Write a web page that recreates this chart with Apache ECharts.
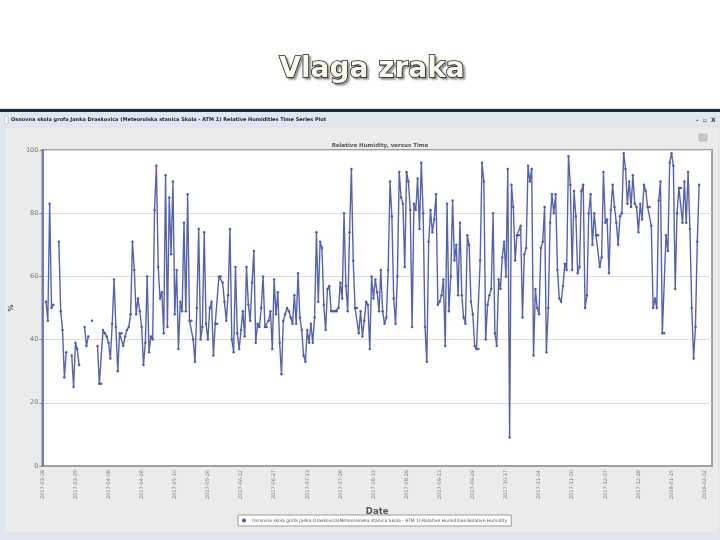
<!DOCTYPE html>
<html><head><meta charset="utf-8">
<script src="https://cdn.jsdelivr.net/npm/echarts@6/dist/echarts.min.js"></script>
<style>html,body{margin:0;padding:0;background:#fff}#c{width:720px;height:540px}</style>
</head><body><div id="c"></div>
<script>
const pageTitle = 'Vlaga zraka';
const windowTitle = 'Osnovna skola grofa Janka Draskovica (Meteorolska stanica Skola - ATM 1) Relative Humidities Time Series Plot';
const chartTitle = 'Relative Humidity, versus Time';
const seriesName = 'Osnovna skola grofa Janka Draskovica(Meteoroloska stanica Skola - ATM 1):Relative Humidities:Relative Humidity';
const yAxisName = '%';
const xAxisName = 'Date';
const tickLabels = ['2017-03-09','2017-03-25','2017-04-09','2017-04-26','2017-05-10','2017-05-26','2017-06-12','2017-06-27','2017-07-13','2017-07-28','2017-08-13','2017-08-29','2017-09-13','2017-09-29','2017-10-17','2017-11-04','2017-11-20','2017-12-07','2017-12-28','2018-01-15','2018-02-02'];
const pointsPerTick = 18;
const categoryCount = 365;
const humidity = [
null,null,52,46,83,50,51,null,null,71,
49,43,28,36,null,null,35,25,39,37,
32,null,null,44,38,41,null,46,null,null,
38,26,26,43,42,41,39,34,45,59,
44,30,42,42,38,41,43,44,48,71,
62,48,53,49,44,32,39,60,36,41,
40,81,95,63,53,55,42,92,44,85,
67,90,48,62,37,52,49,77,49,86,
46,46,40,33,50,75,40,44,74,45,
40,50,52,35,45,45,60,60,58,52,
46,54,75,40,36,63,42,37,43,49,
41,63,51,46,58,68,39,45,44,50,
60,44,44,46,49,37,59,48,55,39,
29,46,48,50,49,47,45,54,45,61,
47,43,35,33,43,39,45,39,47,74,
52,71,69,51,43,56,57,49,49,49,
49,50,58,53,80,57,49,74,94,65,
50,50,42,49,41,46,52,51,37,60,
53,59,55,49,62,49,45,47,62,90,
79,53,45,60,93,85,83,63,93,90,
81,44,83,81,91,75,96,80,44,33,
71,81,74,78,86,51,52,54,59,38,
83,49,60,84,65,70,54,77,54,47,
45,73,70,52,48,38,37,37,65,96,
90,40,51,54,56,80,42,38,59,56,
66,71,60,94,9,89,82,65,73,73,
76,47,67,69,95,90,94,35,56,50,
48,69,71,82,36,50,77,86,80,86,
62,53,52,57,64,62,98,89,62,87,
79,61,63,87,89,50,54,80,86,70,
80,73,73,63,66,93,77,78,61,81,
89,82,77,70,79,80,99,94,83,90,
82,92,83,82,74,83,78,89,87,82,
82,76,50,53,50,84,90,42,42,73,
68,96,99,95,56,80,88,88,77,90,
77,93,75,50,34,44,71,89,null,null,
null,null,null,null,null
];

const categories = [];
for (let i = 0; i < categoryCount; i++) categories.push(String(i));

const chart = echarts.init(document.getElementById('c'), null, {renderer: 'canvas'});
chart.setOption({
  backgroundColor: '#ffffff',
  animation: false,
  title: [
    {
      text: pageTitle, left: 367, top: 51, textAlign: 'center',
      textStyle: {
        fontFamily: 'DejaVu Sans', fontSize: 28, fontWeight: 'bold',
        color: '#fdfbee', textBorderColor: '#222', textBorderWidth: 1.6,
        textShadowColor: 'rgba(0,0,0,0.35)', textShadowOffsetX: 2, textShadowOffsetY: 2, textShadowBlur: 2
      }
    },
    {
      text: chartTitle, left: 375, top: 138, textAlign: 'center',
      textStyle: {fontFamily: 'DejaVu Sans', fontSize: 5.5, fontWeight: 'bold', color: '#555'}
    }
  ],
  graphic: [
    {type: 'rect', z: -10, shape: {x: 0, y: 108, width: 720, height: 432}, style: {fill: '#dfe6ee'}},
    {type: 'rect', z: -9, shape: {x: 0, y: 109, width: 720, height: 3}, style: {fill: '#1d2a38'}},
    {type: 'rect', z: -9, shape: {x: 5, y: 128, width: 713, height: 404}, style: {fill: '#ebebeb'}},
    {type: 'rect', z: -8, shape: {x: 5, y: 116, width: 3, height: 8}, style: {fill: '#fff', stroke: '#9ab', lineWidth: 0.5}},
    {type: 'text', z: -8, style: {x: 11, y: 120, text: windowTitle, font: 'bold 5px "DejaVu Sans"', fill: '#223', verticalAlign: 'middle'}},
    {type: 'text', z: -8, style: {x: 696, y: 120, text: '-  \u25AB  X', font: 'bold 6px "DejaVu Sans"', fill: '#334', verticalAlign: 'middle'}},
    {type: 'rect', z: -8, shape: {x: 699, y: 134, width: 8, height: 7, r: 1}, style: {fill: '#c8c8c8', stroke: '#999', lineWidth: 0.5}}
  ],
  grid: {
    left: 35, right: 8, top: 150, bottom: 74,
    show: true, backgroundColor: '#ffffff', borderColor: '#a0a0a0', borderWidth: 2
  },
  legend: {
    left: 238, top: 515, width: 270,
    backgroundColor: '#ffffff', borderColor: '#9a9a9a', borderWidth: 1, padding: [3, 4],
    itemWidth: 6, itemHeight: 4, itemGap: 4, icon: 'circle',
    textStyle: {fontFamily: 'DejaVu Sans', fontSize: 4.5, color: '#555'}
  },
  xAxis: {
    type: 'category', data: categories, boundaryGap: false,
    name: xAxisName, nameLocation: 'middle', nameGap: 36,
    nameTextStyle: {fontFamily: 'DejaVu Sans', fontSize: 8.5, fontWeight: 'bold', color: '#555'},
    axisLine: {lineStyle: {color: '#a0a0a0', width: 1}},
    axisTick: {show: false},
    axisLabel: {
      interval: pointsPerTick - 1, rotate: 90, fontFamily: 'DejaVu Sans', fontSize: 5, color: '#777', margin: 4,
      formatter: (v, i) => (i % pointsPerTick === 0 && tickLabels[i / pointsPerTick]) ? tickLabels[i / pointsPerTick] : ''
    },
    splitLine: {show: false}
  },
  yAxis: {
    type: 'value', min: 0, max: 100, interval: 20,
    name: yAxisName, nameLocation: 'middle', nameGap: 24, nameRotate: 90,
    nameTextStyle: {fontFamily: 'DejaVu Sans', fontSize: 7, fontWeight: 'bold', color: '#555'},
    axisLine: {show: true, lineStyle: {color: '#6f7bb3', width: 2}},
    axisTick: {show: true, length: 3, lineStyle: {color: '#888'}},
    axisLabel: {fontFamily: 'DejaVu Sans', fontSize: 6.5, color: '#777', margin: 4},
    splitLine: {lineStyle: {color: '#dcdcdc', width: 1}}
  },
  series: [{
    name: seriesName, type: 'line', data: humidity, connectNulls: false,
    showSymbol: true, showAllSymbol: true, symbol: 'circle', symbolSize: 2.5,
    itemStyle: {color: '#4e5ca8'},
    lineStyle: {color: '#5563ad', width: 1.4}
  }]
});
</script>
</body></html>
